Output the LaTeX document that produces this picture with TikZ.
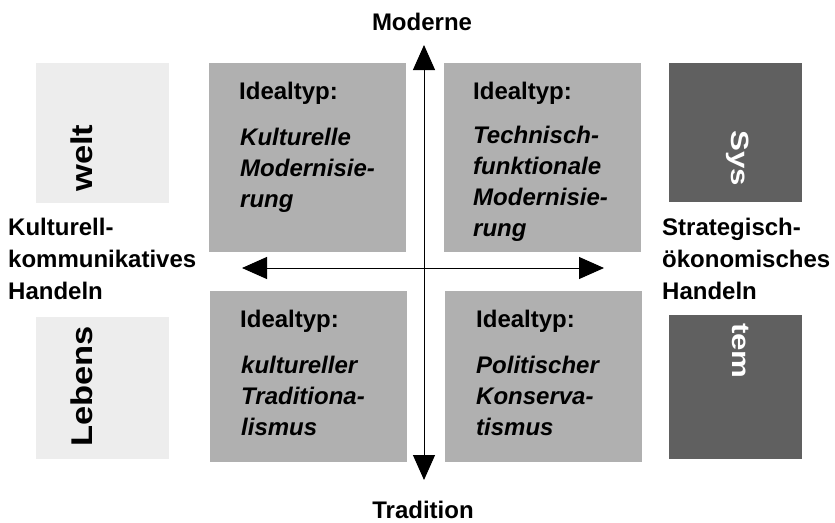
\documentclass[tikz,border=0pt]{standalone}
\usepackage{fontspec}
\setmainfont{Liberation Sans}
\usepackage{graphicx}
\usetikzlibrary{arrows.meta}

\definecolor{lightbox}{HTML}{EDEDED}
\definecolor{midbox}{HTML}{B0B0B0}
\definecolor{darkbox}{HTML}{606060}

\newcommand{\widen}[2][1.25]{\scalebox{#1}[1]{#2}}

\begin{document}
\begin{tikzpicture}[x=1pt, y=-1pt, >={Triangle[width=22pt,length=25pt]}]
  \tikzstyle{every node} = [inner sep=0pt, font=\fontsize{24}{31}\selectfont\bfseries]
  \useasboundingbox (0,0) rectangle (835,522);

  % side boxes
  \tikzstyle{sidebox} = [anchor=north west, minimum width=133pt]
  \node[sidebox, fill=lightbox, minimum height=140pt] (weltbox) at (36,63) {};
  \node[sidebox, fill=lightbox, minimum height=142pt] (lebensbox) at (36,317) {};
  \node[sidebox, fill=darkbox, minimum height=139pt] (sysbox) at (669,63) {};
  \node[sidebox, fill=darkbox, minimum height=144pt] (tembox) at (669,315) {};

  % quadrants
  \tikzstyle{quad} = [anchor=north west, fill=midbox, minimum width=197pt]
  \node[quad, minimum height=189pt] (tl) at (209,63) {};
  \node[quad, minimum height=189pt] (tr) at (444,63) {};
  \node[quad, minimum height=171pt] (bl) at (210,291) {};
  \node[quad, minimum height=171pt] (br) at (445,291) {};

  % words on the side boxes
  \tikzstyle{upword} = [rotate=90, anchor=base west, font=\fontsize{30}{30}\selectfont\bfseries]
  \tikzstyle{downword} = [rotate=-90, anchor=base west, text=white, font=\fontsize{25}{25}\selectfont\bfseries]
  \node[upword] (welt) at (92,192) {\widen[1.15]{welt}};
  \node[upword] (lebens) at (92,447) {\widen[1.15]{Lebens}};
  \node[downword] (sys) at (731,130) {\widen{Sys}};
  \node[downword] (tem) at (732,323) {\widen{tem}};

  % ideal types (base = last line)
  \tikzstyle{head} = [anchor=base west]
  \tikzstyle{typ} = [anchor=base west, align=left, font=\fontsize{24}{31}\selectfont\bfseries\itshape]
  \node[head] (tlhead) at (239,99) {Idealtyp:};
  \node[head] (trhead) at (473,99) {Idealtyp:};
  \node[head] (blhead) at (240,327) {Idealtyp:};
  \node[head] (brhead) at (476,327) {Idealtyp:};
  \node[typ] (tltyp) at (240,207) {Kulturelle\\Modernisie-\\rung};
  \node[typ] (trtyp) at (473,236) {Technisch-\\funktionale\\Modernisie-\\rung};
  \node[typ] (bltyp) at (241,435) {kultureller\\Traditiona-\\lismus};
  \node[typ] (brtyp) at (476,435) {Politischer\\Konserva-\\tismus};

  % axis labels
  \tikzstyle{side} = [anchor=base west, align=left, font=\fontsize{24}{32}\selectfont\bfseries]
  \node[anchor=base] (moderne) at (422,30) {Moderne};
  \node[anchor=base] (tradition) at (423,518) {Tradition};
  \node[side] (kommunikativ) at (8,299) {Kulturell-\\kommunikatives\\Handeln};
  \node[side] (strategisch) at (662,299) {Strategisch-\\ökonomisches\\Handeln};

  % axes
  \coordinate (top) at (424,45);
  \coordinate (bottom) at (424,480);
  \coordinate (left) at (242,268);
  \coordinate (right) at (604,268);
  \draw[<->, line width=1pt] (top) -- (bottom);
  \draw[<->, line width=1pt] (left) -- (right);
\end{tikzpicture}
\end{document}
